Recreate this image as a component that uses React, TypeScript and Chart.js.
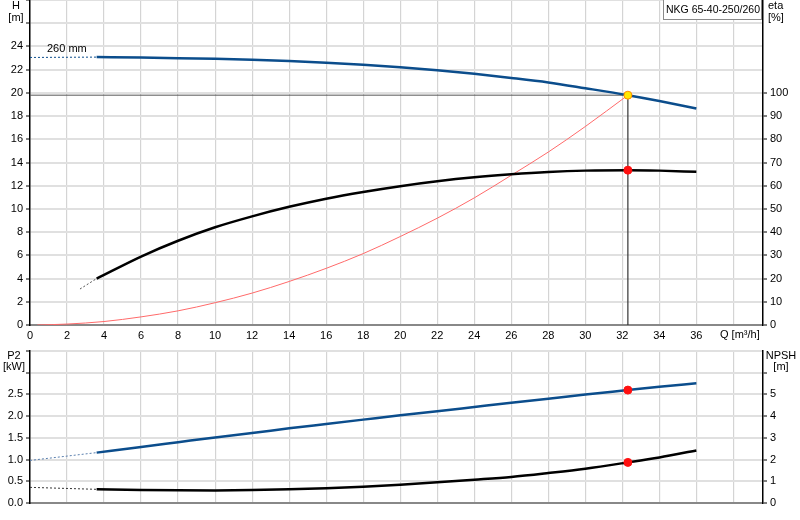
import React, { useEffect, useRef } from "react";
import { Chart, registerables } from "chart.js";
Chart.register(...registerables);

// ---------- data ----------
const flowQ = [3.6, 6, 8, 10, 12, 14, 16, 18, 20, 22, 24, 26, 28, 30, 32.3, 34, 36];
const headH = [23.08, 23.04, 22.99, 22.93, 22.85, 22.74, 22.6, 22.42, 22.2, 21.94, 21.64, 21.29, 20.9, 20.4, 19.8, 19.3, 18.65];
const etaPct = [20, 29.5, 36.3, 42.1, 46.8, 50.9, 54.4, 57.3, 59.8, 61.9, 63.6, 64.9, 65.9, 66.5, 66.7, 66.5, 66.0];
const powerP2 = [1.16, 1.29, 1.4, 1.51, 1.61, 1.72, 1.82, 1.92, 2.02, 2.11, 2.21, 2.31, 2.4, 2.5, 2.6, 2.675, 2.755];
const npshM = [0.63, 0.6, 0.585, 0.58, 0.595, 0.63, 0.68, 0.75, 0.84, 0.95, 1.07, 1.2, 1.38, 1.58, 1.87, 2.1, 2.42];

const headDashQ = [0, 3.6];
const headDashH = [23.05, 23.08];
const etaDashQ = [2.7, 3.6];
const etaDashV = [15.5, 20];
const p2DashQ = [0, 3.6];
const p2DashV = [0.98, 1.16];
const npshDashQ = [0, 3.6];
const npshDashV = [0.72, 0.63];

const systemQ = [0.4, 2, 4, 6, 8, 10, 12, 14, 16, 18, 20, 22, 24, 26, 28, 30, 32.3];
const systemH = [0, 0.08, 0.3, 0.7, 1.22, 1.92, 2.75, 3.75, 4.88, 6.15, 7.62, 9.2, 10.95, 12.9, 14.9, 17.1, 19.8];

const dutyQ = 32.3;
const dutyH = 19.8;
const dutyEta = 66.7;
const dutyP2 = 2.6;
const dutyNpsh = 1.87;

const xTicks = [0, 2, 4, 6, 8, 10, 12, 14, 16, 18, 20, 22, 24, 26, 28, 30, 32, 34, 36, 38];
const hTicks = [0, 2, 4, 6, 8, 10, 12, 14, 16, 18, 20, 22, 24, 26, 28];
const etaTicks = [0, 10, 20, 30, 40, 50, 60, 70, 80, 90, 100];
const p2Ticks = [0, 0.5, 1.0, 1.5, 2.0, 2.5, 3.0, 3.5];
const npshTicks = [0, 1, 2, 3, 4, 5, 6];

const title = "NKG 65-40-250/260";
const impellerLabel = "260 mm";

// ---------- helpers ----------
const FONT = '"Liberation Sans", Arial, sans-serif';
const BLUE = "#0b4d8c";

const pts = (xs: number[], ys: number[]) => xs.map((x, i) => ({ x, y: ys[i] }));

const fix = (size: number, horizontal: boolean) => (s: any) => {
  if (horizontal) s.height = size;
  else s.width = size;
  s.paddingTop = 0;
  s.paddingBottom = 0;
  s.paddingLeft = 0;
  s.paddingRight = 0;
};
const setTicks = (vals: number[]) => (s: any) => {
  s.ticks = vals.map((v) => ({ value: v }));
};

const lineDs = (data: any[], color: string, width: number, yAxisID: string, order: number, dash?: number[]) => ({
  type: "line" as const,
  data,
  borderColor: color,
  borderWidth: width,
  pointRadius: 0,
  cubicInterpolationMode: "monotone" as const,
  fill: false,
  yAxisID,
  order,
  borderDash: dash || [],
});

const pointDs = (x: number, y: number, fillC: string, strokeC: string, yAxisID: string) => ({
  type: "line" as const,
  data: [{ x, y }],
  showLine: false,
  pointRadius: 4,
  pointBackgroundColor: fillC,
  pointBorderColor: strokeC,
  pointBorderWidth: 1,
  yAxisID,
  order: 0,
});

const textPlugin = (draw: (ctx: CanvasRenderingContext2D) => void) => ({
  id: "texts",
  afterDraw(chart: any) {
    const ctx = chart.ctx as CanvasRenderingContext2D;
    ctx.save();
    ctx.fillStyle = "#000";
    ctx.font = `11px ${FONT}`;
    ctx.textBaseline = "middle";
    draw(ctx);
    ctx.restore();
  },
});

const yGrid = { color: "#e0e0e0", lineWidth: 2, tickColor: "#000", tickLength: 4, tickWidth: 1 };
const xGrid = { color: "#d4d4d4", lineWidth: 1.2, tickLength: 0 };

export default function App() {
  const topRef = useRef<HTMLCanvasElement>(null);
  const botRef = useRef<HTMLCanvasElement>(null);

  useEffect(() => {
    Chart.defaults.font.family = FONT;
    Chart.defaults.font.size = 11;
    Chart.defaults.color = "#000";

    const top = new Chart(topRef.current!, {
      type: "line",
      data: {
        datasets: [
          pointDs(dutyQ, dutyH, "#ffe800", "#ff8a00", "y"),
          pointDs(dutyQ, dutyEta, "#ff1010", "#ff1010", "y1"),
          lineDs(pts(flowQ, headH), BLUE, 2.5, "y", 1),
          lineDs(pts(headDashQ, headDashH), BLUE, 1, "y", 1, [2, 2]),
          lineDs(pts(flowQ, etaPct), "#000", 2.5, "y1", 1),
          lineDs(pts(etaDashQ, etaDashV), "#555", 1, "y1", 1, [2, 2]),
          lineDs(pts(systemQ, systemH), "#ff6a6a", 1, "y", 2),
          lineDs(pts([0, dutyQ], [dutyH, dutyH]), "#555", 1, "y", 3),
          lineDs(pts([dutyQ, dutyQ], [dutyH, 0]), "#333", 1.2, "y", 3),
        ] as any,
      },
      options: {
        animation: false,
        responsive: false,
        events: [],
        layout: { padding: 0, autoPadding: false },
        plugins: { legend: { display: false }, tooltip: { enabled: false } },
        scales: {
          x: {
            type: "linear",
            min: 0,
            max: 39.6,
            grid: xGrid,
            border: { color: "#888", width: 2 },
            ticks: { padding: 4, maxRotation: 0, autoSkip: false, callback: (v: any) => (v === 38 ? "" : String(v)) },
            afterBuildTicks: setTicks(xTicks),
            afterFit: fix(20, true),
          },
          y: {
            type: "linear",
            position: "left",
            min: 0,
            max: 28,
            grid: yGrid,
            border: { color: "#000", width: 1.5 },
            ticks: { padding: 3, autoSkip: false, callback: (v: any) => (v > 24 ? "" : String(v)) },
            afterBuildTicks: setTicks(hTicks),
            afterFit: fix(30, false),
          },
          y1: {
            type: "linear",
            position: "right",
            min: 0,
            max: 140,
            grid: { ...yGrid, drawOnChartArea: false },
            border: { color: "#000", width: 1.5 },
            ticks: { padding: 3, autoSkip: false },
            afterBuildTicks: setTicks(etaTicks),
            afterFit: fix(37, false),
          },
        } as any,
      },
      plugins: [
        textPlugin((ctx) => {
          ctx.textAlign = "center";
          ctx.fillText("H", 16, 6);
          ctx.fillText("[m]", 16, 18);
          ctx.textAlign = "left";
          ctx.fillText("eta", 768, 6);
          ctx.fillText("[%]", 768, 18);
          ctx.fillText(impellerLabel, 47, 49);
          ctx.fillText("Q [m³/h]", 720, 335);
          // title box
          ctx.fillStyle = "#fff";
          ctx.fillRect(663.5, -0.5, 98, 20);
          ctx.strokeStyle = "#8a8a8a";
          ctx.lineWidth = 1;
          ctx.strokeRect(663.5, -0.5, 98, 20);
          ctx.fillStyle = "#000";
          ctx.font = `10.5px ${FONT}`;
          ctx.fillText(title, 666, 10);
        }),
      ],
    });

    const bot = new Chart(botRef.current!, {
      type: "line",
      data: {
        datasets: [
          pointDs(dutyQ, dutyP2, "#ff1010", "#ff1010", "y"),
          pointDs(dutyQ, dutyNpsh, "#ff1010", "#ff1010", "y1"),
          lineDs(pts(flowQ, powerP2), BLUE, 2.5, "y", 1),
          lineDs(pts(p2DashQ, p2DashV), "#5a7fae", 1, "y", 1, [2, 2]),
          lineDs(pts(flowQ, npshM), "#000", 2.5, "y1", 1),
          lineDs(pts(npshDashQ, npshDashV), "#333", 1, "y1", 1, [2, 2]),
        ] as any,
      },
      options: {
        animation: false,
        responsive: false,
        events: [],
        layout: { padding: { top: 6 }, autoPadding: false },
        plugins: { legend: { display: false }, tooltip: { enabled: false } },
        scales: {
          x: {
            type: "linear",
            min: 0,
            max: 39.6,
            grid: xGrid,
            border: { color: "#888", width: 2 },
            ticks: { display: false },
            afterBuildTicks: setTicks(xTicks),
            afterFit: fix(17, true),
          },
          y: {
            type: "linear",
            position: "left",
            min: 0,
            max: 3.5,
            grid: yGrid,
            border: { color: "#000", width: 1.5 },
            ticks: { padding: 3, autoSkip: false, callback: (v: any) => (v > 2.5 ? "" : Number(v).toFixed(1)) },
            afterBuildTicks: setTicks(p2Ticks),
            afterFit: fix(30, false),
          },
          y1: {
            type: "linear",
            position: "right",
            min: 0,
            max: 7,
            grid: { ...yGrid, drawOnChartArea: false },
            border: { color: "#000", width: 1.5 },
            ticks: { padding: 3, autoSkip: false, callback: (v: any) => (v > 5 ? "" : String(v)) },
            afterBuildTicks: setTicks(npshTicks),
            afterFit: fix(37, false),
          },
        } as any,
      },
      plugins: [
        textPlugin((ctx) => {
          ctx.textAlign = "center";
          ctx.fillText("P2", 14, 11);
          ctx.fillText("[kW]", 14, 22);
          ctx.fillText("NPSH", 781, 11);
          ctx.fillText("[m]", 781, 22);
        }),
      ],
    });

    return () => {
      top.destroy();
      bot.destroy();
    };
  }, []);

  return (
    <div style={{ position: "absolute", left: 0, top: 0, width: 800, height: 520, background: "#fff" }}>
      <canvas ref={topRef} width={800} height={345} style={{ position: "absolute", left: 0, top: 0, width: 800, height: 345 }} />
      <canvas ref={botRef} width={800} height={175} style={{ position: "absolute", left: 0, top: 345, width: 800, height: 175 }} />
    </div>
  );
}
